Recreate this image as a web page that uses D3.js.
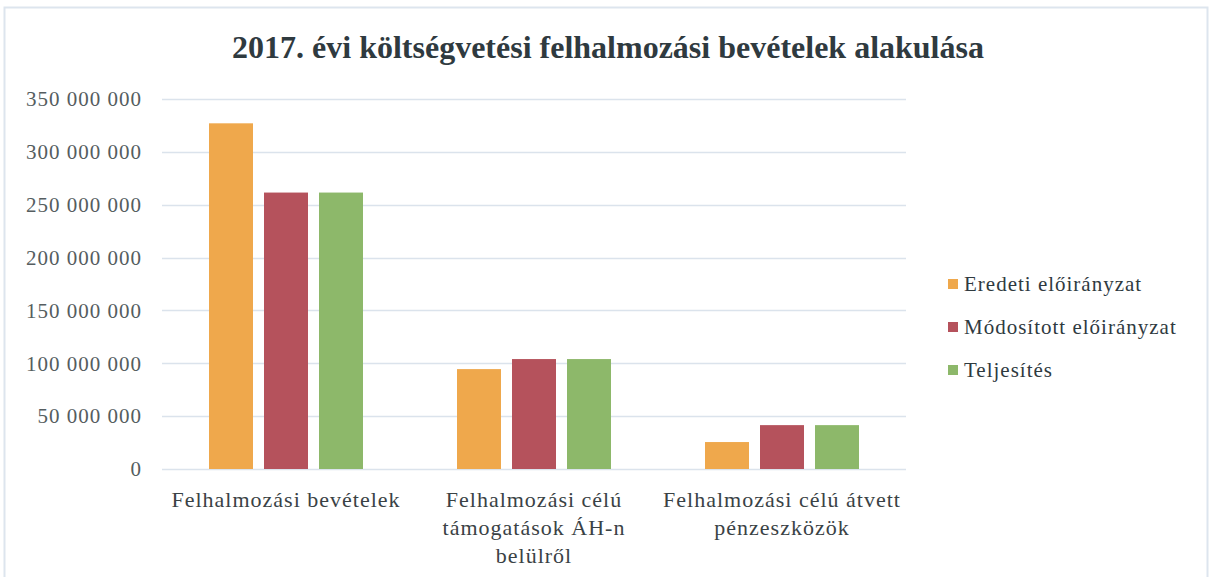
<!DOCTYPE html>
<html>
<head>
<meta charset="utf-8">
<script src="https://cdn.jsdelivr.net/npm/d3@7"></script>
<style>
body { margin: 0; background: #fff; }
</style>
</head>
<body>
<script>
var categories = [
  ["Felhalmozási bevételek"],
  ["Felhalmozási célú", "támogatások ÁH-n", "belülről"],
  ["Felhalmozási célú átvett", "pénzeszközök"]
];
var seriesNames = ["Eredeti előirányzat", "Módosított előirányzat", "Teljesítés"];
var eredeti = [327000000, 94500000, 25500000];
var modositott = [261500000, 104000000, 41500000];
var teljesites = [261500000, 104000000, 41500000];
var yTicks = [0, 50000000, 100000000, 150000000, 200000000, 250000000, 300000000, 350000000];
var colors = ["#efa84c", "#b5525c", "#8db86a"];

var width = 1211, height = 577;
var svg = d3.select("body").append("svg")
    .attr("width", width)
    .attr("height", height);

// chart border
svg.append("rect")
    .attr("x", 4.5).attr("y", 7.5)
    .attr("width", 1203).attr("height", 600)
    .attr("fill", "none")
    .attr("stroke", "#dde5ee")
    .attr("stroke-width", 2);

svg.append("text")
    .attr("x", 608).attr("y", 58)
    .attr("text-anchor", "middle")
    .attr("font-family", "Liberation Serif, Times New Roman, serif")
    .attr("font-weight", "bold")
    .attr("font-size", "32px")
    .attr("fill", "#2f3a3f")
    .text("2017. évi költségvetési felhalmozási bevételek alakulása");

var x0 = d3.scaleBand().domain(d3.range(categories.length)).range([162, 906]);
var x1 = d3.scaleBand().domain(d3.range(seriesNames.length))
    .range([47, x0.bandwidth() - 47]).paddingInner(0.2);
var y = d3.scaleLinear().domain([0, 350000000]).range([469, 99]);

var fmt = function(d) { return d3.format(",")(d).replace(/,/g, " "); };

// gridlines
svg.append("g").selectAll("line")
    .data(yTicks)
    .enter().append("line")
    .attr("x1", 162).attr("x2", 906)
    .attr("y1", function(d) { return Math.round(y(d)) + 0.5; })
    .attr("y2", function(d) { return Math.round(y(d)) + 0.5; })
    .attr("stroke", "#dbe3ec")
    .attr("stroke-width", 1.5);

var yAxis = svg.append("g")
    .attr("transform", "translate(142,0)")
    .call(d3.axisLeft(y).tickValues(yTicks).tickFormat(fmt).tickSize(0).tickPadding(0));
yAxis.select(".domain").remove();
yAxis.selectAll("text")
    .attr("font-family", "Liberation Serif, Times New Roman, serif")
    .attr("font-size", "21px")
    .attr("letter-spacing", "1px")
    .attr("fill", "#555d60");

var allSeries = [eredeti, modositott, teljesites];
var groups = svg.append("g").selectAll("g")
    .data(categories)
    .enter().append("g")
    .attr("transform", function(d, i) { return "translate(" + x0(i) + ",0)"; });

groups.selectAll("rect")
    .data(function(d, i) { return allSeries.map(function(s, j) { return { s: j, v: s[i] }; }); })
    .enter().append("rect")
    .attr("x", function(d) { return x1(d.s); })
    .attr("width", x1.bandwidth())
    .attr("y", function(d) { return y(d.v); })
    .attr("height", function(d) { return y(0) - y(d.v); })
    .attr("fill", function(d) { return colors[d.s]; });

// category labels
groups.each(function(lines, i) {
  var t = d3.select(this).append("text")
      .attr("text-anchor", "middle")
      .attr("font-family", "Liberation Serif, Times New Roman, serif")
      .attr("font-size", "22px")
      .attr("letter-spacing", "1px")
      .attr("fill", "#3a4245");
  lines.forEach(function(l, k) {
    t.append("tspan")
        .attr("x", x0.bandwidth() / 2)
        .attr("y", 507 + k * 28)
        .text(l);
  });
});

// legend
var legend = svg.append("g").selectAll("g")
    .data(seriesNames)
    .enter().append("g")
    .attr("transform", function(d, i) { return "translate(948," + (284 + i * 43) + ")"; });
legend.append("rect")
    .attr("x", 0).attr("y", -5)
    .attr("width", 10).attr("height", 10)
    .attr("fill", function(d, i) { return colors[i]; });
legend.append("text")
    .attr("x", 16).attr("y", 7)
    .attr("font-family", "Liberation Serif, Times New Roman, serif")
    .attr("font-size", "21px")
    .attr("letter-spacing", "1px")
    .attr("fill", "#2f3a3f")
    .text(function(d) { return d; });
</script>
</body>
</html>
